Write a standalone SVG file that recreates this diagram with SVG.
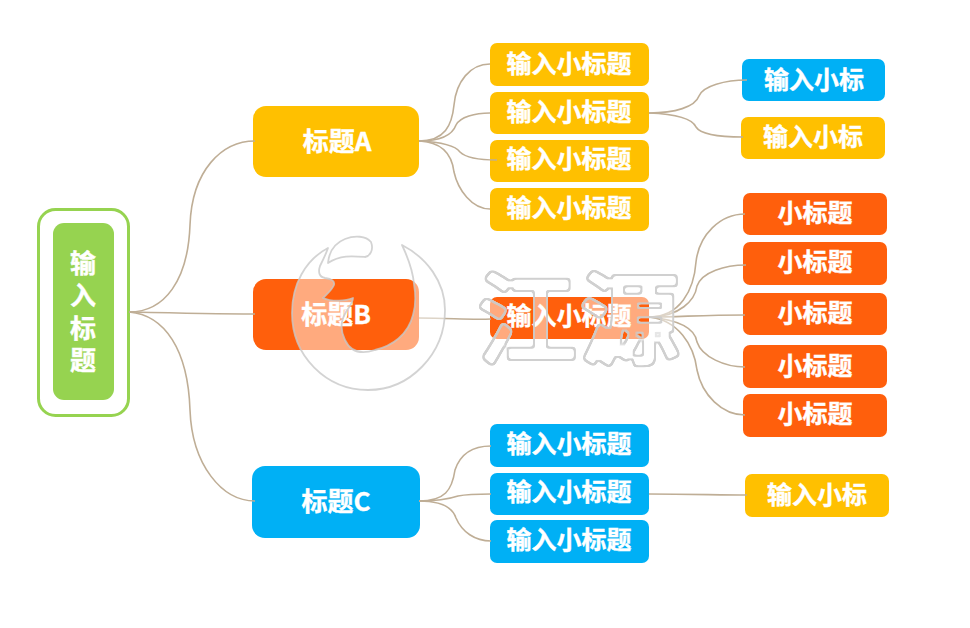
<svg xmlns="http://www.w3.org/2000/svg" width="970" height="628" viewBox="0 0 970 628">
<style>
.y{fill:#ffc000}.o{fill:#ff5f0c}.b{fill:#00b0f5}.g{fill:#96d350}
text{font-family:"Noto Sans CJK SC","Liberation Sans",sans-serif;font-weight:700;fill:#fff;stroke:#fff;stroke-width:.4;text-anchor:middle;dominant-baseline:central}
.t1{font-size:26px}.t2{font-size:25px}
.c path{fill:none;stroke:#bfae96;stroke-width:1.6}
.w{fill:#fff;fill-opacity:.47;stroke:#c8c8c8;stroke-opacity:.8;stroke-width:1.8;stroke-linejoin:round}
.wt{font-size:100px;font-weight:500;stroke-width:0}
</style>
<defs>
<filter id="blob" filterUnits="userSpaceOnUse" x="460" y="245" width="240" height="135" color-interpolation-filters="sRGB">
<feMorphology in="SourceAlpha" operator="dilate" radius="1.6" result="d"/>
<feGaussianBlur in="d" stdDeviation="1.4" result="bl"/>
<feComponentTransfer in="bl" result="s"><feFuncA type="linear" slope="6" intercept="-2"/></feComponentTransfer>
<feMorphology in="s" operator="erode" radius="1.5" result="e"/>
<feFlood flood-color="#fff" flood-opacity=".47"/><feComposite in2="s" operator="in" result="fw"/>
<feFlood flood-color="#cbcbcb" flood-opacity=".9"/><feComposite in2="s" operator="in"/><feComposite in2="e" operator="out" result="ol"/>
<feMerge><feMergeNode in="fw"/><feMergeNode in="ol"/></feMerge>
</filter>
</defs>
<rect width="970" height="628" fill="#fff"/>
<g id="root"><rect x="38.500" y="209.500" width="90" height="206" rx="17" fill="#fff" stroke="#96d350" stroke-width="3"/><rect class="g" x="53" y="223" width="61" height="177" rx="11"/><text class="t1" x="83" y="261">输</text><text class="t1" x="83" y="293">入</text><text class="t1" x="83" y="326">标</text><text class="t1" x="83" y="358">题</text></g>
<g id="a"><rect class="y" x="253" y="106" width="166" height="71" rx="13"/><text class="t1" x="337" y="139">标题A</text></g>
<g id="b"><rect class="o" x="253" y="279" width="166" height="71" rx="13"/><text class="t1" x="336" y="312">标题B</text></g>
<g id="c"><rect class="b" x="252" y="466" width="168" height="72" rx="13"/><text class="t1" x="336" y="499">标题C</text></g>
<g id="a1"><rect class="y" x="490" y="43" width="159" height="43" rx="7"/><text class="t2" x="569" y="62">输入小标题</text></g>
<g id="a2"><rect class="y" x="490" y="92" width="159" height="42" rx="7"/><text class="t2" x="569" y="110">输入小标题</text></g>
<g id="a3"><rect class="y" x="490" y="140" width="159" height="42" rx="7"/><text class="t2" x="569" y="157">输入小标题</text></g>
<g id="a4"><rect class="y" x="490" y="188" width="159" height="43" rx="7"/><text class="t2" x="569" y="206">输入小标题</text></g>
<g id="a21"><rect class="b" x="742" y="59" width="143" height="42" rx="7"/><text class="t2" x="814" y="78">输入小标</text></g>
<g id="a22"><rect class="y" x="741" y="117" width="144" height="42" rx="7"/><text class="t2" x="813" y="135">输入小标</text></g>
<g id="b1"><rect class="o" x="490" y="297" width="159" height="42" rx="7"/><text class="t2" x="569" y="314">输入小标题</text></g>
<g id="b11"><rect class="o" x="743" y="193" width="144" height="42" rx="7"/><text class="t2" x="815" y="211">小标题</text></g>
<g id="b12"><rect class="o" x="743" y="242" width="144" height="43" rx="7"/><text class="t2" x="815" y="260">小标题</text></g>
<g id="b13"><rect class="o" x="743" y="293" width="144" height="42" rx="7"/><text class="t2" x="815" y="311">小标题</text></g>
<g id="b14"><rect class="o" x="743" y="345" width="144" height="43" rx="7"/><text class="t2" x="815" y="364">小标题</text></g>
<g id="b15"><rect class="o" x="743" y="394" width="144" height="43" rx="7"/><text class="t2" x="815" y="412">小标题</text></g>
<g id="c1"><rect class="b" x="490" y="424" width="159" height="43" rx="7"/><text class="t2" x="569" y="442">输入小标题</text></g>
<g id="c2"><rect class="b" x="490" y="473" width="159" height="42" rx="7"/><text class="t2" x="569" y="490">输入小标题</text></g>
<g id="c3"><rect class="b" x="490" y="520" width="159" height="43" rx="7"/><text class="t2" x="569" y="538">输入小标题</text></g>
<g id="c21"><rect class="y" x="745" y="474" width="144" height="43" rx="7"/><text class="t2" x="817" y="493">输入小标</text></g>
<g id="connectors" class="c">
<path d="M129 312C165 312 188 280 190 225C192 170 222 141 255 141"/>
<path d="M129 312C170 313 210 314 255 314"/>
<path d="M129 312C165 315 188 350 190 410C192 465 222 501 255 501"/>
<path d="M419 141C445 141 452 125 454 105C456 82 470 64 490 64"/>
<path d="M419 141C440 141 452 136 456 125C460 117 475 113 490 113"/>
<path d="M419 141C440 142 455 145 460 152C466 158 480 160 497 160"/>
<path d="M419 141C442 142 452 155 454 172C458 190 472 209 490 209"/>
<path d="M649 113C675 113 695 107 699 96C703 86 725 80 747 80"/>
<path d="M649 113C675 114 692 118 696 127C701 135 722 137 743 137"/>
<path d="M419 318C450 318 470 320 491 319"/>
<path d="M649 317C680 317 694 290 696 262C699 235 720 214 745 214"/>
<path d="M649 317C680 317 695 300 697 286C702 272 725 265 746 265"/>
<path d="M649 317C680 317 700 315 745 315"/>
<path d="M649 317C680 320 695 328 697 342C702 357 725 367 745 367"/>
<path d="M649 317C678 320 694 345 697 370C702 395 722 415 745 415"/>
<path d="M419 501C445 501 452 490 455 470C460 455 472 446 491 446"/>
<path d="M419 501C440 501 452 498 458 496C468 494 478 494 491 494"/>
<path d="M419 501C440 501 452 506 456 518C462 532 475 541 491 541"/>
<path d="M649 494C690 494 720 495 747 495"/>
</g>
<g id="watermark">
<path class="w" d="M328 248C305 260 292 285 292 313C292 356 326 390 368 390C410 390 445 354 445 310C445 282 427 258 402 245C410 262 413 272 414 284C416 296 416 305 413 315C408 335 392 346 375 350C366 353 352 355 345 340C340 330 341 320 346 312C350 306 353 302 353 298C346 301 332 302 323 298C328 293 332 290 334 285C335 281 332 279 325 278C319 277 318 272 320 266C323 260 326 254 328 248Z"/>
<path class="w" d="M328 263C329 252 335 243 345 239C355 235 366 236 371 242C374 250 370 256 365 257C352 256 340 255 328 263Z"/>
<text class="wt" x="527" y="312" filter="url(#blob)">江</text>
<text class="wt" x="630" y="312" filter="url(#blob)">源</text>
</g>
</svg>
